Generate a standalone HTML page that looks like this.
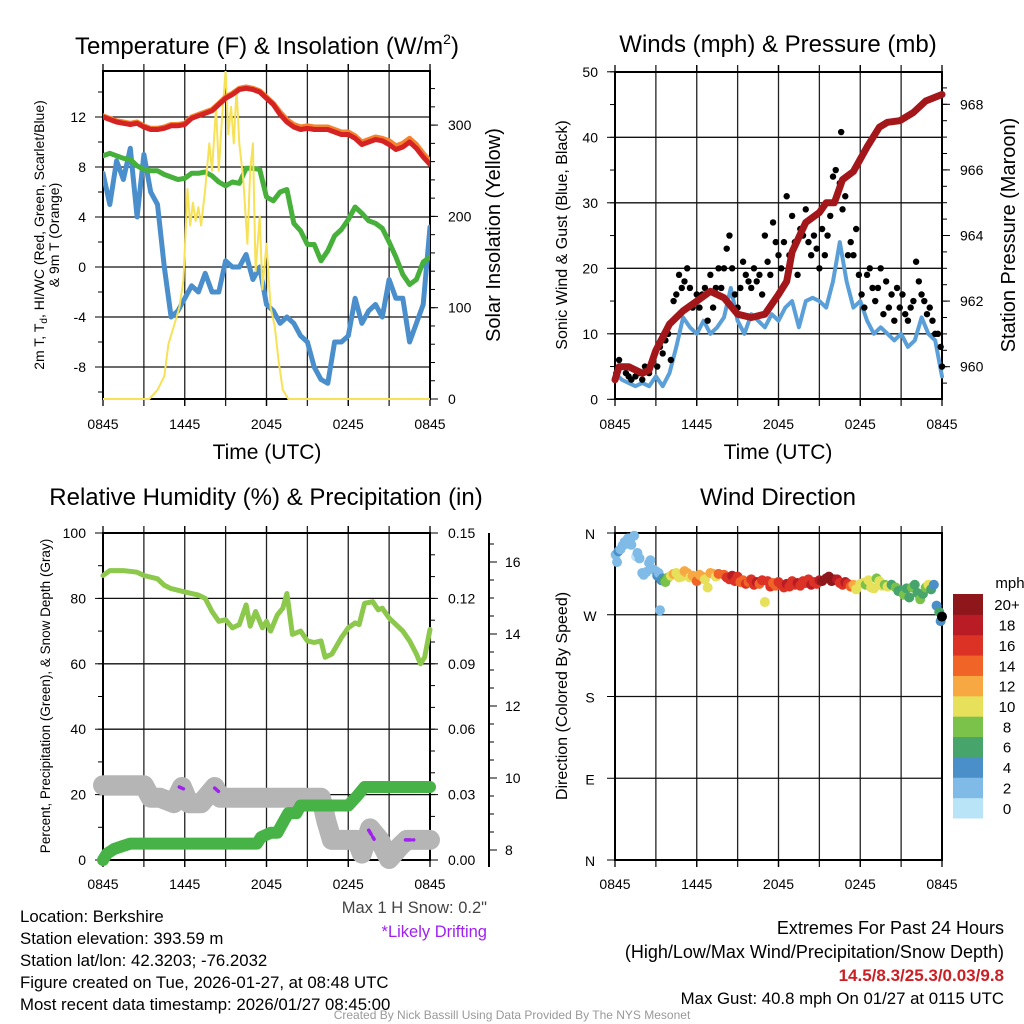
<!DOCTYPE html>
<html><head><meta charset="utf-8"><style>
html,body{margin:0;padding:0;background:#fff}
svg{display:block;font-family:"Liberation Sans",Arial,sans-serif}
</style></head><body>
<svg id="c" width="1024" height="1024" viewBox="0 0 1024 1024"></svg>
<script>
// ---------- DATA ----------
const xTickLabels = ["0845","1445","2045","0245","0845"];
const temp2m = [12.0,11.8,11.6,11.5,11.4,11.5,11.2,11.0,11.0,11.1,11.3,11.3,11.4,11.9,12.1,12.3,12.5,13.0,13.5,13.8,14.2,14.3,14.2,14.0,13.5,13.0,12.2,11.6,11.2,11.0,11.1,11.0,11.0,11.0,10.8,10.6,10.6,10.3,9.8,10.0,10.2,10.1,9.8,9.4,9.6,10.0,9.5,8.8,8.2];
const temp9m = [12.1,11.9,11.7,11.6,11.5,11.6,11.3,11.1,11.1,11.2,11.4,11.4,11.5,12.0,12.2,12.4,12.6,13.1,13.6,13.9,14.3,14.4,14.3,14.1,13.6,13.1,12.4,11.8,11.4,11.2,11.3,11.2,11.2,11.2,11.0,10.8,10.8,10.5,10.0,10.2,10.4,10.3,10.1,9.7,9.9,10.3,9.8,9.1,8.5];
const dewGreen = [8.9,9.1,8.9,8.7,8.6,8.1,7.8,7.7,7.7,7.4,7.2,7.0,7.1,7.5,7.5,7.6,7.3,6.8,6.5,6.8,6.7,7.9,7.9,7.8,5.6,5.3,6.0,6.2,3.5,2.9,1.8,1.8,0.5,1.3,2.5,3.0,3.8,4.8,4.3,3.7,3.5,3.1,2.0,0.8,-0.6,-1.4,-1.0,0.4,0.8];
const windChillBlue = [7.5,5.0,8.5,7.0,9.5,4.0,9.0,6.0,5.0,0.0,-4.0,-3.5,-2.5,-1.5,-2.0,-0.5,-2.0,-2.0,0.5,0.0,0.0,1.0,-1.0,0.0,-3.0,-3.5,-4.5,-4.0,-4.5,-5.5,-6.0,-8.0,-9.0,-9.3,-6.0,-6.0,-5.5,-2.5,-4.5,-3.5,-3.0,-4.0,-1.0,-2.5,-2.5,-6.0,-4.5,-3.0,3.2];
const solarHours = [0,3.4,4.0,4.5,4.8,5.2,5.6,5.9,6.2,6.4,6.6,6.8,7.0,7.2,7.5,7.8,8.0,8.3,8.5,8.7,9.0,9.2,9.4,9.6,9.8,10.0,10.3,10.6,10.8,11.0,11.2,11.5,11.7,12.0,12.3,12.6,12.9,13.2,13.6,24];
const solarVals  = [0,0,10,25,60,80,100,130,230,190,215,195,210,190,230,280,250,320,250,300,360,290,320,280,340,280,240,170,250,280,140,200,120,170,100,80,40,10,0,0];
const tempTicks = [-8,-4,0,4,8,12];
const solarTicks = [0,100,200,300];
const windSonic = [4,3,2.5,2,2.5,2,3.5,2,4,8,12.5,11,10,12,10,11,12.5,17,12,10,13,12,11,13,12,14,15,11,15,15.5,15,14,18,24,18,14,15,12,10,11,10,9,10,8,9,12.5,10,9,3.5];
const gustHours = [0.1,0.3,0.4,0.6,0.8,1.0,1.2,1.5,1.8,2.0,2.2,2.5,2.8,3.1,3.3,3.5,3.7,3.9,4.1,4.3,4.5,4.7,4.9,5.1,5.3,5.5,5.7,6.0,6.2,6.4,6.6,6.8,7.0,7.2,7.4,7.6,7.8,8.0,8.2,8.4,8.6,8.8,9.0,9.2,9.4,9.6,9.8,10.0,10.2,10.4,10.6,10.8,11.0,11.2,11.4,11.6,11.8,12.0,12.2,12.4,12.6,12.8,13.0,13.2,13.4,13.6,13.8,14.0,14.2,14.4,14.6,14.8,15.0,15.2,15.4,15.6,15.8,16.0,16.2,16.5,16.7,16.9,17.1,17.3,17.5,17.7,17.9,18.1,18.3,18.5,18.7,18.9,19.1,19.3,19.5,19.7,19.9,20.1,20.3,20.5,20.7,20.9,21.1,21.3,21.5,21.7,21.9,22.1,22.3,22.5,22.7,22.9,23.1,23.3,23.5,23.7,23.9,24,16.6];
const gustVals  = [4,6,5,5,4,3.5,3,3.5,4,3,5,4,6,5,8,7,9,10,6,15,16,19,17,18,20,17,14,16,14,16,17,12,19,14,17,20,17,20,23,25,20,16,14,17,21,19,18,17,20,18,19,16,25,21,19,27,24,22,20,24,31,22,28,24,19,26,25,29,24,22,25,23,20,26,22,25,28,34,35,33,29,31,22,24,22,26,19,16,14,19,20,17,15,17,20,13,18,14,16,12,17,14,16,13,12,14,15,21,18,16,15,13,14,12,10,10,8,5,40.8];
const presHours = [0,0.3,1,2,2.5,3,4,5,6,7,8,9,10,11,12,12.6,13,14,15,15.5,16.1,16.7,17.5,18.5,19.4,20,20.9,21.9,22.8,24];
const presVals  = [959.6,960.0,960.0,959.8,959.9,960.5,961.3,961.7,962.0,962.3,962.1,961.6,961.5,961.6,962.2,962.6,963.5,964.4,964.7,965.0,965.0,965.7,965.95,966.7,967.3,967.45,967.5,967.75,968.1,968.3];
const windTicks = [0,10,20,30,40,50];
const presTicks = [960,962,964,966,968];
const rhHours = [0,0.5,1.5,2.5,3,4,4.5,5,6,7,7.5,8,8.5,9,9.5,10,10.5,10.8,11.2,11.7,12,12.3,12.8,13.2,13.5,13.9,14.5,15,15.5,16,16.3,16.8,17.5,18,18.5,18.8,19.2,19.8,20.2,20.5,21,22,22.5,23,23.3,23.6,24];
const rhVals  = [87,88.5,88.5,88,87,86,84,83,82,81,80,76,73,73.5,71,72,78,71.5,76,71,73,70,75,77,81.5,69,70,67,66.5,67,62,63,68,71,72.5,72,78.5,79,76.5,77,74,70,67,63,60,62,70.5];
const precipHours = [0,0.3,0.8,1.5,2.0,11.3,11.6,12.3,12.8,13.2,13.6,14.2,14.5,18.0,18.6,19.2,24];
const precipVals  = [0,0.003,0.005,0.0065,0.0075,0.0075,0.0105,0.0125,0.0125,0.017,0.0215,0.0215,0.025,0.025,0.029,0.0335,0.0335];
const snowHours = [0,3.0,3.5,4.2,5.2,5.8,6.3,7.2,8.2,8.6,16.0,16.4,16.8,18.0,18.6,19.0,19.6,20.3,21.0,21.8,22.3,24];
const snowVals  = [9.8,9.8,9.45,9.45,9.3,9.75,9.3,9.3,9.75,9.45,9.45,8.8,8.28,8.28,8.28,7.9,8.6,8.28,7.75,8.1,8.28,8.28];
const driftHours = [[5.6,5.9],[8.2,8.5],[19.5,19.9],[22.2,22.8]];
const driftVals  = [[9.75,9.7],[9.72,9.62],[8.55,8.3],[8.28,8.28]];
const rhTicks = [0,20,40,60,80,100];
const precipTicks = ["0.00","0.03","0.06","0.09","0.12","0.15"];
const snowTicks = [8,10,12,14,16];
const dirHours = [0.05,0.15,0.25,0.4,0.55,0.7,0.8,0.95,1.1,1.2,1.4,1.55,1.65,1.8,2.0,2.1,2.3,2.5,2.6,2.8,3.0,3.1,3.2,3.3,3.4,3.5,3.6,3.7,3.9,4.1,4.3,4.5,4.7,4.9,5.1,5.3,5.5,5.7,6.0,6.2,6.4,6.6,6.8,7.0,7.2,7.4,7.6,8.0,8.2,8.4,8.6,8.8,9.0,9.2,9.4,9.6,9.8,10.0,10.2,10.4,10.6,10.8,11.0,11.2,11.4,11.6,11.8,12.0,12.2,12.4,12.6,12.8,13.0,13.2,13.4,13.6,13.8,14.0,14.2,14.4,14.6,14.8,15.0,15.2,15.5,15.7,15.9,16.1,16.3,16.5,16.7,16.9,17.1,17.3,17.5,17.7,18.0,18.2,18.4,18.6,18.8,19.0,19.2,19.4,19.6,19.8,20.0,20.3,20.6,20.8,21.0,21.2,21.4,21.6,21.8,22.0,22.2,22.4,22.6,22.8,23.0,23.2,23.4,23.6,23.8,23.9,24.0];
const dirVals  = [336,328,340,342,346,350,348,354,351,347,357,334,338,332,316,314,317,327,330,320,318,313,316,275,308,310,308,306,311,313,315,316,311,312,318,316,311,313,307,314,312,309,300,316,315,312,315,314,311,309,313,307,312,306,308,304,306,309,303,306,304,308,284,307,301,305,302,306,303,300,304,301,307,303,305,302,307,305,309,303,306,304,308,307,310,312,307,309,309,305,303,306,304,301,303,298,304,305,303,308,300,299,310,307,302,303,301,303,300,296,297,292,299,289,300,303,294,287,293,300,303,298,303,280,273,263,268];
const dirSpeeds = [2,3,4,2,2,2,2,2,2,2,2,1,2,2,2,3,2,2,2,3,2,4,2,3,4,4,6,8,9,11,12,10,10,11,12,13,11,12,14,12,12,10,10,12,13,11,14,15,16,17,18,16,17,14,15,16,15,17,16,18,15,17,10,16,17,15,14,16,17,16,18,16,17,16,18,17,16,17,16,18,17,16,19,20,21,22,20,21,19,17,16,18,16,15,13,11,10,10,9,11,10,10,9,10,10,9,10,7,8,7,6,8,7,6,8,7,6,8,7,9,10,6,5,4,6,4];
const speedBins = ["0","2","4","6","8","10","12","14","16","18","20+"];
const speedColors = ["#b9e3f7","#7fbbe6","#4a8fc8","#47a56c","#7bc24a","#e6e05a","#f8a843","#f06428","#dc3226","#b91c24","#8e171b"];
const dirTicks = ["N","E","S","W","N"];

// ---------- DRAW ----------
const svg = document.getElementById('c');
const NS = "http://www.w3.org/2000/svg";
function el(tag, attrs, parent){
  const e = document.createElementNS(NS, tag);
  for (const k in attrs) e.setAttribute(k, attrs[k]);
  (parent||svg).appendChild(e);
  return e;
}
function txt(s, x, y, size, anchor, parent, extra){
  const t = el('text', Object.assign({x:x, y:y, 'font-size':size, 'text-anchor':anchor||'start', fill:'#000'}, extra||{}), parent);
  t.textContent = s;
  return t;
}
function grp(name){
  const g = el('g', {});
  
  
  return g;
}
function hx(h, x0, x1){ return x0 + h/24*(x1-x0); }
function polyline(xsA, ysA, color, w, g, name){
  let d = '';
  for (let i=0;i<xsA.length;i++) d += (i?'L':'M') + xsA[i].toFixed(1) + ' ' + ysA[i].toFixed(1);
  const p = el('path', {d:d, fill:'none', stroke:color, 'stroke-width':w, 'stroke-linejoin':'round', 'stroke-linecap':'round'}, g);
  
  
  return p;
}
function frame(g, x0, x1, y0, y1, hGrid){
  const ln = (a,b,c,d,w,col) => el('line', {x1:a,y1:b,x2:c,y2:d,stroke:col||'#000','stroke-width':w||1}, g);
  for (let i=1;i<8;i++){ const x = x0 + i*(x1-x0)/8; ln(x,y0-7,x,y1+7,1.3,'#222'); }
  for (let i=0;i<=8;i+=2){ const x = x0 + i*(x1-x0)/8; ln(x,y1,x,y1+7,1.3); ln(x,y0-7,x,y0,1.3); }
  hGrid.forEach(y => ln(x0,y,x1,y,1.3,'#111'));
  el('rect', {x:x0,y:y0,width:x1-x0,height:y1-y0,fill:'none',stroke:'#000','stroke-width':2}, g);
}
function xLabels(g, x0, x1, y){
  xTickLabels.forEach((s,i)=>{ txt(s, x0 + i*(x1-x0)/4, y, 14, 'middle', g); });
}
function tickMarks(g, x, ys, len){
  ys.forEach(y => el('line',{x1:x,y1:y,x2:x+len,y2:y,stroke:'#000','stroke-width':1}, g));
}
const half = []; for (let i=0;i<=48;i++) half.push(i*0.5);

// ===== Panel 1: Temperature =====
(function(){
  const g = grp('temperature-panel');
  const X0=103, X1=430, Y0=71, Y1=399;
  const yT = v => 267 - v*12.5;
  const yI = v => 399 - v*0.913;
  const tt = el('text', {x:267, y:54, 'font-size':24, 'text-anchor':'middle', fill:'#000'}, g);
  
  
  tt.innerHTML = 'Temperature (F) &amp; Insolation (W/m<tspan font-size="14" dy="-10">2</tspan><tspan dy="10">)</tspan>';
  const minorL=[], minorR=[];
  for (let v=-10; v<=15; v+=2) minorL.push(yT(v));
  for (let v=0; v<=340; v+=20) minorR.push(yI(v));
  tickMarks(g, X0, minorL, -5); tickMarks(g, X1, minorR, 5);
  tickMarks(g, X0, tempTicks.map(yT), -8); tickMarks(g, X1, solarTicks.map(yI), 8);
  frame(g, X0, X1, Y0, Y1, tempTicks.map(yT));
  tempTicks.forEach(v => txt(String(v), 86, yT(v)+5, 14, 'end', g));
  solarTicks.forEach(v => txt(String(v), 448, yI(v)+5, 14, 'start', g));
  xLabels(g, X0, X1, 429);
  txt('Time (UTC)', 267, 459, 21, 'middle', g);
  const yl = txt('', 44, 235, 14, 'middle', g, {transform:'rotate(-90 44 235)'});
  yl.innerHTML = '2m T, T<tspan font-size="10" dy="3">d</tspan><tspan dy="-3">, HI/WC (Red, Green, Scarlet/Blue)</tspan>';
  txt('& 9m T (Orange)', 59, 235, 14, 'middle', g, {transform:'rotate(-90 59 235)'});
  txt('Solar Insolation (Yellow)', 500, 235, 20, 'middle', g, {transform:'rotate(-90 500 235)'});
  const cp = el('clipPath', {id:'cp1'}, g); el('rect', {x:X0,y:Y0,width:X1-X0,height:Y1-Y0+2}, cp);
  const d = el('g', {'clip-path':'url(#cp1)'}, g);
  const hxs = half.map(h=>hx(h,X0,X1));
  polyline(hxs, windChillBlue.map(yT), '#4a8fcc', 5, d, 'windchill-line');
  polyline(hxs, dewGreen.map(yT), '#46b03a', 5, d, 'dewpoint-line');
  polyline(solarHours.map(h=>hx(h,X0,X1)), solarVals.map(yI), '#f7e156', 2, d, 'insolation-line');
  polyline(hxs, temp9m.map(yT), '#f5832d', 5, d, 'temp-9m-line');
  polyline(hxs, temp2m.map(yT), '#d52323', 5, d, 'temp-2m-line');
})();

// ===== Panel 2: Winds & Pressure =====
(function(){
  const g = grp('winds-panel');
  const X0=615, X1=942, Y0=72, Y1=399;
  const yW = v => 399.3 - v*6.55;
  const yP = p => 366.7 - (p-960)*32.8;
  txt('Winds (mph) & Pressure (mb)', 778, 52, 24, 'middle', g);
  const mL=[], mR=[];
  for (let v=0; v<=50; v+=5) mL.push(yW(v));
  for (let p=959.5; p<=968.6; p+=0.5) mR.push(yP(p));
  tickMarks(g, X0, mL, -5); tickMarks(g, X1, mR, 5);
  tickMarks(g, X0, windTicks.map(yW), -8); tickMarks(g, X1, presTicks.map(yP), 8);
  frame(g, X0, X1, Y0, Y1, windTicks.map(yW));
  windTicks.forEach(v => txt(String(v), 598, yW(v)+5, 14, 'end', g));
  presTicks.forEach(v => txt(String(v), 960, yP(v)+5, 14, 'start', g));
  xLabels(g, X0, X1, 429);
  txt('Time (UTC)', 778, 459, 21, 'middle', g);
  txt('Sonic Wind & Gust (Blue, Black)', 567, 235, 16, 'middle', g, {transform:'rotate(-90 567 235)'});
  txt('Station Pressure (Maroon)', 1015, 235, 20, 'middle', g, {transform:'rotate(-90 1015 235)'});
  const d = g;
  polyline(half.map(h=>hx(h,X0,X1)), windSonic.map(yW), '#5b9fd8', 4, d, 'sonic-wind-line');
  gustHours.forEach((h,i)=>{
    const c = el('circle', {cx:hx(h,X0,X1), cy:yW(gustVals[i]), r:3.2, fill:'#000'}, d);
    
    
  });
  polyline(presHours.map(h=>hx(h,X0,X1)), presVals.map(yP), '#a3171b', 7, d, 'pressure-line');
})();

// ===== Panel 3: RH, Precip, Snow =====
(function(){
  const g = grp('humidity-panel');
  const X0=103, X1=430, Y0=533, Y1=860;
  const yR = v => 860 - v*3.27;
  const yPr = v => 860 - v/0.15*327;
  const yS = v => 850 - (v-8)*36;
  txt('Relative Humidity (%) & Precipitation (in)', 266, 505, 24, 'middle', g);
  const mL=[], mR=[], mS=[];
  for (let v=0; v<=100; v+=10) mL.push(yR(v));
  for (let v=0; v<=0.15001; v+=0.01) mR.push(yPr(v));
  for (let v=7.5; v<=16.6; v+=0.5) mS.push(yS(v));
  tickMarks(g, X0, mL, -5); tickMarks(g, X1, mR, 5);
  tickMarks(g, X0, rhTicks.map(yR), -8); tickMarks(g, X1, precipTicks.map(s=>yPr(+s)), 8);
  frame(g, X0, X1, Y0, Y1, rhTicks.map(yR));
  rhTicks.forEach(v => txt(String(v), 86, yR(v)+5, 14, 'end', g));
  precipTicks.forEach(s => txt(s, 448, yPr(+s)+5, 14, 'start', g));
  el('line', {x1:489,y1:533,x2:489,y2:867,stroke:'#000','stroke-width':2}, g);
  tickMarks(g, 489, mS.filter(y=>y>534&&y<866), 5);
  tickMarks(g, 489, snowTicks.map(yS), 8);
  snowTicks.forEach(v => txt(String(v), 505, yS(v)+5, 14, 'start', g));
  xLabels(g, X0, X1, 889);
  txt('Percent, Precipitation (Green), & Snow Depth (Gray)', 50, 696, 13.5, 'middle', g, {transform:'rotate(-90 50 696)'});
  const cp = el('clipPath', {id:'cp3'}, g); el('rect', {x:X0-12,y:Y0,width:X1-X0+24,height:Y1-Y0+10}, cp);
  const d = el('g', {'clip-path':'url(#cp3)'}, g);
  polyline(snowHours.map(h=>hx(h,X0,X1)), snowVals.map(yS), '#b5b5b5', 20, d, 'snow-depth-line');
  driftHours.forEach((hh,i)=>{
    const p = polyline(hh.map(h=>hx(h,X0,X1)), driftVals[i].map(yS), '#a020f0', 3.5, d, 'drifting-segment');
    p.setAttribute('stroke-dasharray', '5 3');
  });
  polyline(precipHours.map(h=>hx(h,X0,X1)), precipVals.map(yPr), '#47b347', 12, d, 'precip-line');
  polyline(rhHours.map(h=>hx(h,X0,X1)), rhVals.map(yR), '#8cc84b', 5, d, 'rh-line');
})();

// ===== Panel 4: Wind direction =====
(function(){
  const g = grp('wind-direction-panel');
  const X0=615, X1=942, Y0=533, Y1=860;
  const yD = v => 860 - v/360*327;
  txt('Wind Direction', 778, 505, 24, 'middle', g);
  const tv = [0,90,180,270,360];
  frame(g, X0, X1, Y0, Y1, tv.map(yD));
  tickMarks(g, X0, tv.map(yD), -8);
  dirTicks.forEach((s,i) => txt(s, 590, yD(tv[i])+6, 14, 'middle', g));
  xLabels(g, X0, X1, 889);
  txt('Direction (Colored By Speed)', 567, 696, 16, 'middle', g, {transform:'rotate(-90 567 696)'});
  dirHours.forEach((h,i)=>{
    let b = Math.min(10, Math.floor(dirSpeeds[i]/2));
    const c = el('circle', {cx:hx(h,X0,X1), cy:yD(dirVals[i]), r:5, fill:speedColors[b]}, g);
    
    
  });
  const lg = grp('speed-colorbar');
  txt('mph', 1010, 588, 15, 'middle', lg);
  const bh = 224/11;
  speedBins.forEach((s,i)=>{
    const y = 818 - (i+1)*bh;
    el('rect', {x:953, y:y, width:30, height:bh+0.5, fill:speedColors[i]}, lg);
    txt(s, 1007, y+bh/2+6, 15, 'middle', lg);
  });
})();

// ===== Text footer =====
(function(){
  const g = grp('station-info');
  const lines = ['Location: Berkshire','Station elevation: 393.59 m','Station lat/lon: 42.3203; -76.2032','Figure created on Tue, 2026-01-27, at 08:48 UTC','Most recent data timestamp: 2026/01/27 08:45:00'];
  lines.forEach((s,i)=> txt(s, 20, 922 + i*22, 16.8, 'start', g));
  txt('Max 1 H Snow: 0.2"', 487, 913, 16.5, 'end', g, {fill:'#444'});
  txt('*Likely Drifting', 487, 937, 16.5, 'end', g, {fill:'#a020f0'});
  const e = grp('extremes-summary');
  txt('Extremes For Past 24 Hours', 1004, 934, 18, 'end', e);
  txt('(High/Low/Max Wind/Precipitation/Snow Depth)', 1004, 958, 18, 'end', e);
  txt('14.5/8.3/25.3/0.03/9.8', 1004, 981, 17, 'end', e, {fill:'#cc1f24','font-weight':'bold'});
  txt('Max Gust: 40.8 mph On 01/27 at 0115 UTC', 1004, 1004, 16.8, 'end', e);
  txt('Created By Nick Bassill Using Data Provided By The NYS Mesonet', 512, 1019, 12, 'middle', e, {fill:'#999'});
})();
</script>
</body></html>
